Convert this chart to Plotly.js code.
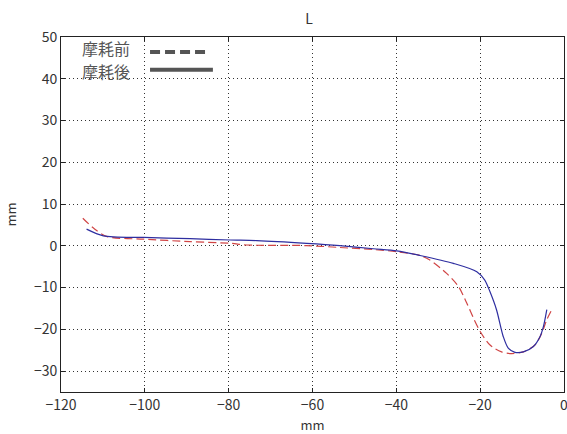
<!DOCTYPE html>
<html>
<head>
<meta charset="utf-8">
<script src="https://cdn.plot.ly/plotly-3.0.1.min.js"></script>
<style>html,body{margin:0;padding:0;background:#fff;}#chart{width:567px;height:434px;}</style>
</head>
<body>
<div id="chart"></div>
<script>
// 摩耗前 (before wear) - red dashed
const beforeX = [-114.8, -112.2, -109, -100.3, -89.2, -79.6, -75.7, -61.4, -53.5, -45.5, -39.9, -34.4, -32, -28, -25.2, -23.2, -21.6, -20, -17.7, -14.9, -12.5, -9.7, -6.9, -5.3, -4.1, -2.9];
const beforeY = [6.6, 4.2, 2.2, 1.6, 1.0, 0.6, 0.2, 0.05, -0.4, -0.9, -1.4, -2.3, -3.4, -6.6, -9.7, -13.7, -17.3, -20.5, -23.7, -25.4, -25.8, -25.4, -23.7, -20.9, -17.7, -15.3];
// 摩耗後 (after wear) - blue solid
const afterX = [-113.9, -109.9, -100.3, -89.2, -79.6, -73.3, -61.4, -53.5, -45.5, -39.9, -34.4, -26.4, -20.8, -18.9, -17.7, -16.1, -14.5, -13.3, -11.7, -9.7, -7.3, -5.7, -4.9, -4.1];
const afterY = [4.0, 2.4, 2.0, 1.7, 1.4, 1.25, 0.6, 0.05, -0.7, -1.2, -2.3, -4.2, -6.2, -8.2, -10.9, -15.3, -21.7, -24.5, -25.5, -25.4, -24.1, -21.7, -19.3, -15.3];
const legendLabels = ['摩耗前', '摩耗後'];
const titleText = 'L';
const xTitle = 'mm';
const yTitle = 'mm';

const font = '"Noto Sans CJK KR", "Noto Sans CJK JP", "DejaVu Sans", sans-serif';

const traces = [
  {x: beforeX, y: beforeY, type: 'scatter', mode: 'lines', name: legendLabels[0],
   line: {color: '#d04545', width: 1.2, dash: '8px,4px', shape: 'spline', smoothing: 0.8}, showlegend: false},
  {x: afterX, y: afterY, type: 'scatter', mode: 'lines', name: legendLabels[1],
   line: {color: '#2e2ea0', width: 1.2, shape: 'spline', smoothing: 0.8}, showlegend: false}
];

const axisCommon = {
  showline: true, linecolor: '#222', linewidth: 1, mirror: 'ticks',
  ticks: 'inside', ticklen: 4, tickcolor: '#222',
  showgrid: true, gridcolor: '#333', griddash: '1px,3px', gridwidth: 1,
  zeroline: false, ticklabeloverflow: 'allow',
  tickfont: {family: font, size: 14, color: '#333'}
};

const layout = {
  width: 567, height: 434,
  margin: {l: 61, r: 3, t: 37, b: 42},
  paper_bgcolor: '#fff', plot_bgcolor: '#fff',
  showlegend: false,
  title: {text: titleText, font: {family: font, size: 14, color: '#333'}, x: 0.545, xanchor: 'center', y: 0.955, yanchor: 'middle'},
  xaxis: Object.assign({}, axisCommon, {range: [-120, 0], dtick: 20, tickformat: 'd',
    title: {text: xTitle, font: {family: font, size: 13, color: '#333'}, standoff: 11}}),
  yaxis: Object.assign({}, axisCommon, {range: [-35, 50], dtick: 10,
    title: {text: yTitle, font: {family: font, size: 13, color: '#333'}, standoff: 14}}),
  shapes: [
    {type: 'line', xref: 'paper', yref: 'paper', x0: 0.177, x1: 0.292, y0: 0.958, y1: 0.958,
     line: {color: '#555', width: 4, dash: '10px,5px'}},
    {type: 'line', xref: 'paper', yref: 'paper', x0: 0.177, x1: 0.302, y0: 0.908, y1: 0.908,
     line: {color: '#555', width: 4}}
  ],
  annotations: [
    {text: legendLabels[0], xref: 'paper', yref: 'paper', x: 0.142, y: 0.970, xanchor: 'right', yanchor: 'middle',
     showarrow: false, font: {family: font, size: 16, color: '#555'}},
    {text: legendLabels[1], xref: 'paper', yref: 'paper', x: 0.142, y: 0.903, xanchor: 'right', yanchor: 'middle',
     showarrow: false, font: {family: font, size: 16, color: '#555'}}
  ]
};

Plotly.newPlot('chart', traces, layout, {displayModeBar: false, staticPlot: true});
</script>
</body>
</html>
